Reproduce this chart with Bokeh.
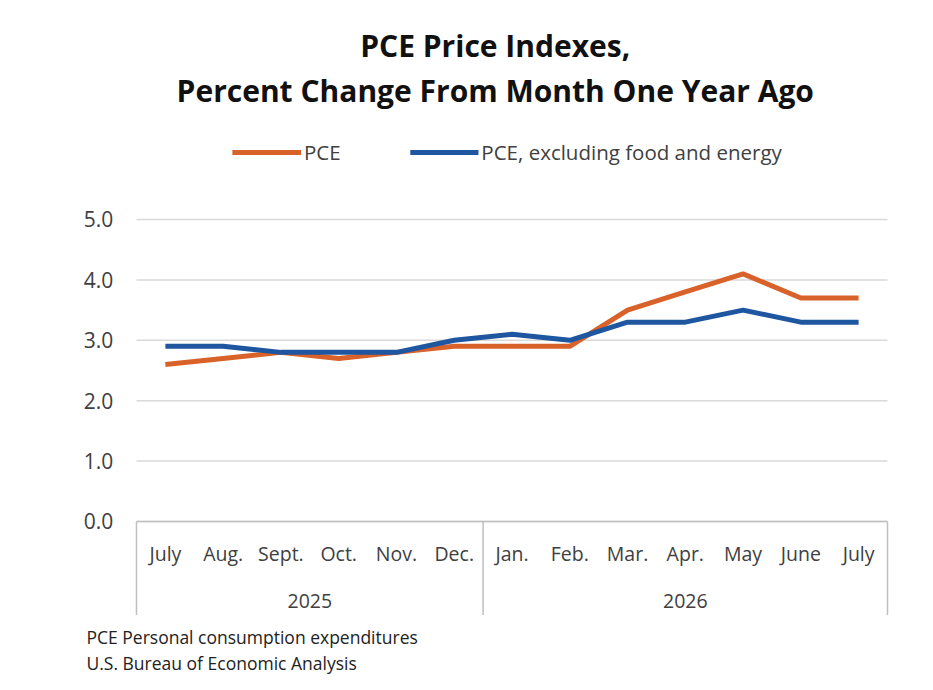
from bokeh.plotting import figure
from bokeh.models import Range1d
from bokeh.core.properties import value
from bokeh.embed import file_html
from bokeh.resources import INLINE

months = ["July", "Aug.", "Sept.", "Oct.", "Nov.", "Dec.", "Jan.", "Feb.", "Mar.", "Apr.", "May", "June", "July"]
years = ["2025", "2026"]
year_spans = [(0, 6), (6, 13)]
pce = [2.6, 2.7, 2.8, 2.7, 2.8, 2.9, 2.9, 2.9, 3.5, 3.8, 4.1, 3.7, 3.7]
core = [2.9, 2.9, 2.8, 2.8, 2.8, 3.0, 3.1, 3.0, 3.3, 3.3, 3.5, 3.3, 3.3]
yticks = [0, 1, 2, 3, 4, 5]
series_names = ["PCE", "PCE, excluding food and energy"]
title_lines = ["PCE Price Indexes,", "Percent Change From Month One Year Ago"]
notes = ["PCE Personal consumption expenditures", "U.S. Bureau of Economic Analysis"]

FONT = "Open Sans"
GREY = "#404040"
ORANGE = "#D9622B"
BLUE = "#1F56A0"
x = [i + 0.5 for i in range(len(months))]

p = figure(width=925, height=682, output_backend="svg", toolbar_location=None,
           x_range=Range1d(-2.354, 13.658), y_range=Range1d(-2.666, 8.626),
           min_border=0)
p.outline_line_color = None
p.axis.visible = False
p.grid.visible = False

# y grid and labels
p.segment(x0=[0]*len(yticks), y0=yticks, x1=[13]*len(yticks), y1=yticks,
          line_color="#d9d9d9", line_width=1.5)
p.text(x=[-0.4]*len(yticks), y=yticks, text=[f"{t:.1f}" for t in yticks], text_align="right",
       text_baseline="middle", text_font=value(FONT), text_font_size="21px", text_color=GREY)

# category axis
p.segment(x0=[0], y0=[0], x1=[13], y1=[0], line_color="#bfbfbf", line_width=1.5)
seps = sorted(set([a for a, b in year_spans] + [b for a, b in year_spans]))
p.segment(x0=seps, y0=[0]*len(seps), x1=seps, y1=[-1.55]*len(seps), line_color="#bfbfbf", line_width=1.5)
p.text(x=x, y=[-0.53]*len(x), text=months, text_align="center", text_baseline="middle",
       text_font=value(FONT), text_font_size="19.5px", text_color=GREY)
p.text(x=[(a + b) / 2 for a, b in year_spans], y=[-1.31]*2, text=years, text_align="center",
       text_baseline="middle", text_font=value(FONT), text_font_size="19.5px", text_color=GREY)

p.line(x, pce, line_color=ORANGE, line_width=5)
p.line(x, core, line_color=BLUE, line_width=5)

# legend
p.segment(x0=[1.66, 4.74], y0=[6.11, 6.11], x1=[2.85, 5.92], y1=[6.11, 6.11],
          line_color=[ORANGE, BLUE], line_width=5)
p.text(x=[2.9, 5.97], y=[6.11, 6.11], text=series_names, text_baseline="middle",
       text_font=value(FONT), text_font_size="20.5px", text_color=GREY)

# title
p.text(x=[6.21, 6.21], y=[7.88, 7.136], text=title_lines, text_align="center", text_baseline="middle",
       text_font=value(FONT), text_font_size="30px", text_font_style="bold", text_color="#111111")

# notes
p.text(x=[-0.866, -0.866], y=[-1.92, -2.35], text=notes, text_baseline="middle",
       text_font=value(FONT), text_font_size="17.5px", text_color="#222222")

open("out.html", "w").write(file_html(p, INLINE))
